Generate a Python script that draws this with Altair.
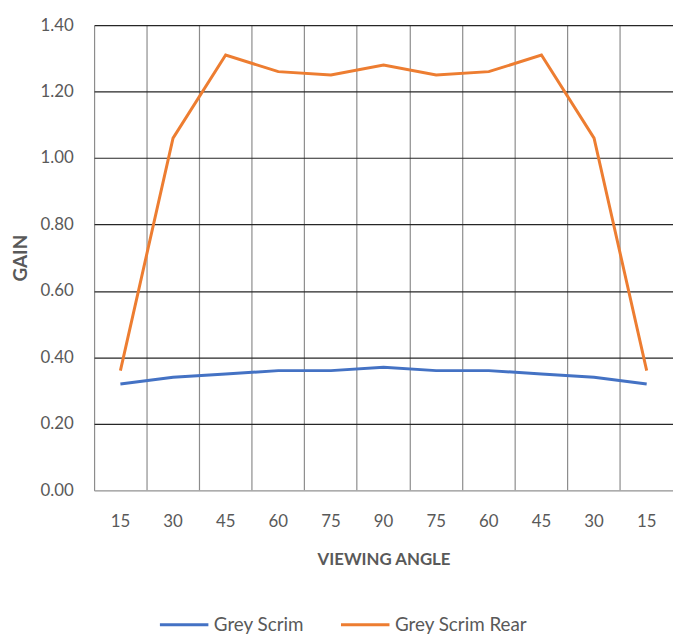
import altair as alt
import pandas as pd

angles = ["15", "30", "45", "60", "75", "90", "75", "60", "45", "30", "15"]
grey_scrim = [0.32, 0.34, 0.35, 0.36, 0.36, 0.37, 0.36, 0.36, 0.35, 0.34, 0.32]
grey_scrim_rear = [0.36, 1.06, 1.31, 1.26, 1.25, 1.28, 1.25, 1.26, 1.31, 1.06, 0.36]
series_names = ["Grey Scrim", "Grey Scrim Rear"]
colors = ["#4472C4", "#ED7D31"]

rows = []
for i, a in enumerate(angles):
    rows.append({"idx": i, "angle": a, "series": series_names[0], "gain": grey_scrim[i]})
    rows.append({"idx": i, "angle": a, "series": series_names[1], "gain": grey_scrim_rear[i]})
df = pd.DataFrame(rows)

label_expr = "[" + ",".join(f"'{a}'" for a in angles) + "][datum.value]"
W, H = 585, 470

font = "Lato"
chart = alt.Chart(df).mark_line(strokeWidth=3).encode(
    x=alt.X("idx:O", bandPosition=0.5,
            scale=alt.Scale(type="band", paddingInner=0, paddingOuter=0),
            axis=alt.Axis(title="VIEWING ANGLE", labelExpr=label_expr, bandPosition=0,
                          labelAngle=0, labelPadding=24, ticks=False,
                          labelFontSize=17, labelColor="#595959", labelFont=font,
                          titleFont=font, titleFontSize=17, titleColor="#595959",
                          titleFontWeight="bold", titlePadding=22,
                          grid=True, gridColor="#8c8c8c", gridWidth=1.2,
                          domainColor="#c8c8c8", domainWidth=1.2)),
    y=alt.Y("gain:Q", scale=alt.Scale(domain=[0, 1.4], nice=False),
            axis=alt.Axis(title="GAIN", values=[0, 0.2, 0.4, 0.6, 0.8, 1.0, 1.2, 1.4],
                          format=".2f", labelFontSize=17, labelColor="#595959",
                          labelFont=font, labelPadding=21, ticks=False, domain=False,
                          titleFont=font, titleFontSize=19, titleColor="#595959",
                          titleFontWeight="bold", titlePadding=10,
                          grid=True, gridColor="#262626", gridWidth=1.2)),
    color=alt.Color("series:N", scale=alt.Scale(domain=series_names, range=colors),
                    legend=alt.Legend(title=None, orient="none", direction="horizontal",
                                      legendX=65, legendY=580, symbolType="stroke",
                                      symbolSize=2400, symbolStrokeWidth=3,
                                      labelFontSize=19, labelColor="#595959",
                                      labelFont=font, columnPadding=30, labelOffset=4)),
).properties(
    width=W, height=H,
    autosize=alt.AutoSizeParams(type="none"),
    padding={"left": 87, "top": 14, "right": 0, "bottom": 145},
).configure_view(stroke=None)

chart.save("out.html", embed_options={"renderer": "svg", "actions": False})
